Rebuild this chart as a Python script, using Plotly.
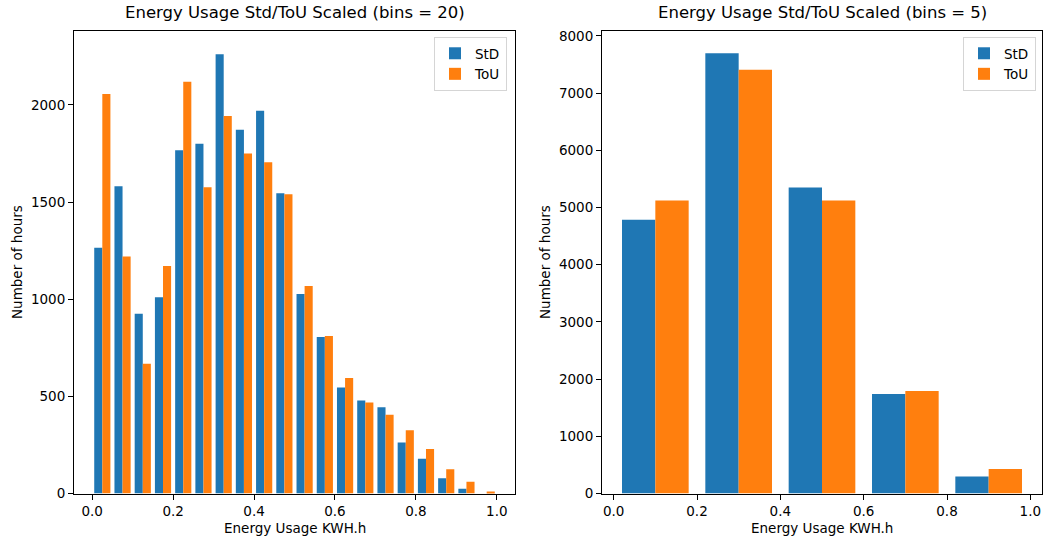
import plotly.graph_objects as go
from plotly.subplots import make_subplots

# ---------------- data ----------------
series_names = ["StD", "ToU"]

edges20 = [i * 0.05 for i in range(21)]
std20 = [1265, 1581, 925, 1010, 1766, 1800, 2261, 1872, 1969, 1545,
         1026, 805, 545, 478, 444, 263, 179, 78, 24, 0]
tou20 = [2056, 1220, 668, 1171, 2119, 1576, 1943, 1750, 1704, 1540,
         1068, 810, 595, 468, 405, 325, 229, 125, 60, 10]

edges5 = [0.0, 0.2, 0.4, 0.6, 0.8, 1.0]
std5 = [4785, 7698, 5349, 1738, 297]
tou5 = [5122, 7407, 5122, 1791, 430]

titles = ["Energy Usage Std/ToU Scaled (bins = 20)",
          "Energy Usage Std/ToU Scaled (bins = 5)"]
xlabel = "Energy Usage KWH.h"
ylabel = "Number of hours"

colors = ["#1f77b4", "#ff7f0e"]

# ---------------- figure ----------------
W, H = 1043, 539
FONT = "DejaVu Sans"

def centers(e):
    return [(e[i] + e[i + 1]) / 2 for i in range(len(e) - 1)]

fig = make_subplots(rows=1, cols=2)

for name, vals, col in zip(series_names, [std20, tou20], colors):
    fig.add_trace(go.Bar(x=centers(edges20), y=vals, name=name,
                         marker=dict(color=col, line=dict(width=0)),
                         legend="legend", offsetgroup=name), row=1, col=1)
for name, vals, col in zip(series_names, [std5, tou5], colors):
    fig.add_trace(go.Bar(x=centers(edges5), y=vals, name=name,
                         marker=dict(color=col, line=dict(width=0)),
                         legend="legend2", offsetgroup=name), row=1, col=2)

x1 = [74 / W, 515 / W]
x2 = [602 / W, 1042 / W]
ydom = [1 - 493.5 / H, 1 - 31 / H]

axis_common = dict(showline=True, linecolor="black", linewidth=1, mirror=True,
                   ticks="outside", ticklen=5, tickwidth=1, tickcolor="black",
                   showgrid=False, zeroline=False, automargin=False,
                   tickfont=dict(family=FONT, size=13.5, color="black"))

fig.update_layout(
    width=W, height=H,
    margin=dict(l=0, r=0, t=0, b=0),
    paper_bgcolor="white", plot_bgcolor="white",
    barmode="group", bargap=0.2, bargroupgap=0,
    font=dict(family=FONT, color="black"),
    xaxis=dict(domain=x1, range=[-0.045, 1.045], tick0=0, dtick=0.2,
               tickformat=".1f", **axis_common),
    yaxis=dict(domain=ydom, range=[0, 2380], tick0=0, dtick=500, **axis_common),
    xaxis2=dict(domain=x2, range=[-0.028, 1.028], tick0=0, dtick=0.2,
                tickformat=".1f", **axis_common),
    yaxis2=dict(domain=ydom, range=[0, 8085], tick0=0, dtick=1000, **axis_common),
    legend=dict(x=507 / W, y=1 - 37 / H, xanchor="right", yanchor="top",
                bordercolor="#d5d5d5", borderwidth=1, bgcolor="rgba(255,255,255,0.8)",
                font=dict(family=FONT, size=13.5, color="black"),
                tracegroupgap=0, itemwidth=30),
    legend2=dict(x=1036 / W, y=1 - 37 / H, xanchor="right", yanchor="top",
                 bordercolor="#d5d5d5", borderwidth=1, bgcolor="rgba(255,255,255,0.8)",
                 font=dict(family=FONT, size=13.5, color="black"),
                 tracegroupgap=0, itemwidth=30),
    showlegend=True,
)

annotations = []
for t, xd in zip(titles, [x1, x2]):
    annotations.append(dict(text=t, x=(xd[0] + xd[1]) / 2, y=1 - 24 / H,
                            xref="paper", yref="paper", xanchor="center",
                            yanchor="bottom", showarrow=False,
                            font=dict(family=FONT, size=16.5, color="black")))
for xd in [x1, x2]:
    annotations.append(dict(text=xlabel, x=(xd[0] + xd[1]) / 2, y=1 - 528 / H,
                            xref="paper", yref="paper", xanchor="center",
                            yanchor="middle", showarrow=False,
                            font=dict(family=FONT, size=13.5, color="black")))
for xc in [17, 545]:
    annotations.append(dict(text=ylabel, x=xc / W, y=1 - 262 / H,
                            xref="paper", yref="paper", xanchor="center",
                            yanchor="middle", showarrow=False, textangle=-90,
                            font=dict(family=FONT, size=13.5, color="black")))
fig.update_layout(annotations=annotations)

fig.write_html("out.html")
